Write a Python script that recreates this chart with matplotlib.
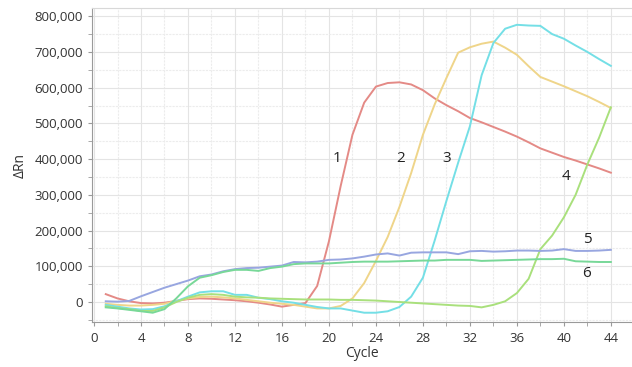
import numpy as np
import matplotlib
matplotlib.use('Agg')
from matplotlib import pyplot as plt
from matplotlib.ticker import MultipleLocator, FuncFormatter

plt.rcParams['font.family'] = ['Open Sans', 'DejaVu Sans']

cycles = np.arange(1, 45)

# amplification curves, delta Rn per cycle
curve1 = [22e3, 10e3, 2e3, -3e3, -4e3, -2e3, 3e3, 8e3, 10e3, 9e3,
          7e3, 5e3, 2e3, -2e3, -7e3, -13e3, -8e3, -3e3, 45e3, 170e3,
          325e3, 468e3, 558e3, 603e3, 613e3, 615e3, 609e3, 593e3, 570e3, 551e3,
          534e3, 515e3, 503e3, 490e3, 477e3, 463e3, 447e3, 430e3, 418e3, 406e3,
          396e3, 385e3, 374e3, 362e3]
curve2 = [-5e3, -8e3, -10e3, -10e3, -8e3, -5e3, 3e3, 10e3, 14e3, 15e3,
          13e3, 10e3, 6e3, 2e3, -2e3, -5e3, -8e3, -13e3, -18e3, -18e3,
          -11e3, 10e3, 53e3, 115e3, 182e3, 266e3, 361e3, 468e3, 553e3, 627e3,
          698e3, 713e3, 723e3, 729e3, 712e3, 692e3, 660e3, 630e3, 617e3, 604e3,
          590e3, 576e3, 560e3, 543e3]
curve3 = [-8e3, -13e3, -18e3, -21e3, -20e3, -12e3, 2e3, 15e3, 27e3, 30e3,
          30e3, 20e3, 20e3, 12e3, 8e3, 2e3, -2e3, -8e3, -14e3, -18e3,
          -18e3, -24e3, -30e3, -30e3, -26e3, -14e3, 15e3, 68e3, 172e3, 283e3,
          390e3, 492e3, 635e3, 725e3, 765e3, 776e3, 774e3, 773e3, 750e3, 737e3,
          718e3, 700e3, 680e3, 661e3]
curve4 = [-12e3, -17e3, -20e3, -25e3, -25e3, -15e3, 0, 12e3, 20e3, 22e3,
          20e3, 15e3, 13e3, 12e3, 10e3, 9e3, 8e3, 7e3, 7e3, 7e3,
          6e3, 6e3, 5e3, 4e3, 2e3, 0, -2e3, -4e3, -6e3, -8e3,
          -10e3, -11e3, -15e3, -8e3, 2e3, 25e3, 65e3, 148e3, 186e3, 237e3,
          300e3, 385e3, 460e3, 545e3]
curve5 = [2e3, 1e3, 3e3, 16e3, 28e3, 40e3, 50e3, 60e3, 72e3, 77e3,
          86e3, 92e3, 95e3, 96e3, 99e3, 102e3, 112e3, 111e3, 113e3, 118e3,
          119e3, 122e3, 127e3, 133e3, 136e3, 130e3, 138e3, 139e3, 139e3, 139e3,
          134e3, 142e3, 143e3, 141e3, 142e3, 144e3, 144e3, 143e3, 144e3, 148e3,
          143e3, 143e3, 144e3, 146e3]
curve6 = [-15e3, -18e3, -22e3, -26e3, -30e3, -20e3, 10e3, 44e3, 68e3, 75e3,
          84e3, 90e3, 90e3, 87e3, 95e3, 99e3, 106e3, 108e3, 108e3, 108e3,
          110e3, 112e3, 113e3, 113e3, 113e3, 114e3, 115e3, 116e3, 116e3, 118e3,
          118e3, 118e3, 115e3, 116e3, 117e3, 118e3, 119e3, 120e3, 120e3, 121e3,
          114e3, 113e3, 112e3, 112e3]

curves = [curve1, curve2, curve3, curve4, curve5, curve6]
colors = ['#e48a86', '#efd58a', '#74dfe6', '#a9e07c', '#98a6e0', '#78d898']
labels = ['1', '2', '3', '4', '5', '6']
labelPos = [(20.7, 403e3), (26.1, 403e3), (30.0, 403e3),
            (40.2, 350e3), (42.0, 174e3), (41.9, 81e3)]

fig = plt.figure(figsize=(6.32, 3.67), dpi=100)
ax = fig.add_axes([0.1456, 0.1226, 0.8544, 0.8556])

for values, color in zip(curves, colors):
    ax.plot(cycles, values, color=color, linewidth=1.4)

for text, (x, y) in zip(labels, labelPos):
    ax.text(x, y, text, fontsize=11, color='#222222', ha='center', va='center')

ax.set_xlim(-0.17, 45.8)
ax.set_ylim(-56e3, 823e3)

ax.xaxis.set_major_locator(MultipleLocator(4))
ax.xaxis.set_minor_locator(MultipleLocator(2))
ax.yaxis.set_major_locator(MultipleLocator(100e3))
ax.yaxis.set_minor_locator(MultipleLocator(50e3))
ax.yaxis.set_major_formatter(FuncFormatter(lambda v, p: f'{int(v):,}'))
ax.set_xticks([0, 4, 8, 12, 16, 20, 24, 28, 32, 36, 40, 44])

ax.grid(which='major', color='#e4e4e4', linewidth=0.8)
ax.grid(which='minor', color='#ececec', linewidth=0.8, linestyle=(0, (2, 1)))
ax.set_axisbelow(True)

ax.spines['right'].set_visible(False)
ax.spines['top'].set_color('#d8d8d8')
ax.spines['left'].set_color('#9a9a9a')
ax.spines['bottom'].set_color('#9a9a9a')

ax.tick_params(which='both', length=3, color='#9a9a9a', labelsize=9.5,
               labelcolor='#333333')
ax.tick_params(axis='x', pad=4)

ax.set_xlabel('Cycle', fontsize=10, color='#333333', labelpad=1)
ax.set_ylabel('ΔRn', fontsize=10, color='#333333', labelpad=5)

fig.savefig('out.png', dpi=100)
